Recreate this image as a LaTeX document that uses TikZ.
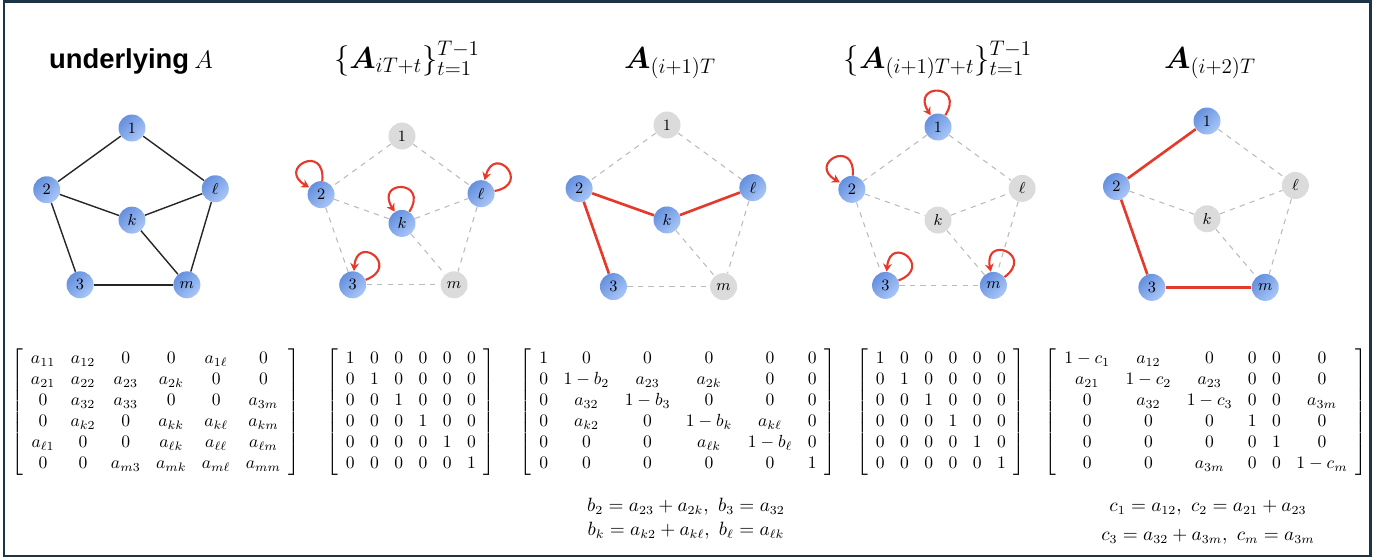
\documentclass[tikz,border=0pt]{standalone}
\usepackage{amsmath,amssymb}
\usepackage{fontspec}
\usepackage{tikz}
\usetikzlibrary{arrows.meta,positioning}
\newfontfamily\headfont{Liberation Sans}
\definecolor{vblueA}{HTML}{6590DE}
\definecolor{vblueB}{HTML}{A9C6F7}
\definecolor{vgray}{HTML}{DBDBDB}
\definecolor{hotred}{HTML}{E5392B}
\definecolor{framenavy}{HTML}{1D3446}
\setlength{\arraycolsep}{4.4pt}
\tikzset{
  vtx/.style={circle, inner sep=0pt, minimum size=0.54cm, font=\small},
  onvtx/.style={vtx, top color=vblueA, bottom color=vblueB, shading angle=45},
  offvtx/.style={vtx, fill=vgray},
  edgeplain/.style={black!85, line width=0.8pt},
  edgeoff/.style={black!27, dashed, line width=0.6pt},
  edgeon/.style={hotred, line width=1.5pt},
  selfloop/.style={hotred, line width=1.2pt, -{Stealth[length=4.5pt,width=5pt]},
                   min distance=0.76cm, looseness=1},
  paneltitle/.style={anchor=base, font=\LARGE},
  mtx/.style={inner sep=0pt},
  cond/.style={align=center, inner sep=0pt, font=\fontsize{10.5}{12.6}\selectfont},
}

\begin{document}
\begin{tikzpicture}[x=0.02cm, y=0.02cm]

%% Canvas and frame
\useasboundingbox (0,0) rectangle (1387,-559);
\draw[framenavy, line width=0.055cm] (4,-1.5) rectangle (1370.5,-556);

%% Titles
\node[paneltitle, font=\fontsize{15.6}{18}\selectfont] (titleA) at (131,-68)
  {{\headfont\bfseries underlying}\hspace{3pt}$A$};
\node[paneltitle] (titleB) at (407,-68) {$\{\boldsymbol{A}_{iT+t}\}_{t=1}^{T-1}$};
\node[paneltitle] (titleC) at (670,-68) {$\boldsymbol{A}_{(i+1)T}$};
\node[paneltitle] (titleD) at (938,-68) {$\{\boldsymbol{A}_{(i+1)T+t}\}_{t=1}^{T-1}$};
\node[paneltitle] (titleE) at (1210,-68) {$\boldsymbol{A}_{(i+2)T}$};

%% Pentagon layout (relative to vertex 1)
\def\ptTwo{(-87,-63)}  \def\ptL{(85,-62)}  \def\ptK{(0,-94)}
\def\ptThree{(-53,-160)} \def\ptM{(56,-160)}

%% ── (A) underlying graph ────────────────────────────────────────────
\begin{scope}[shift={(132,-128)}, scale=0.98]
  \node[onvtx] (A1) at (0,0) {$1$};
  \node[onvtx] (A2) at \ptTwo {$2$};
  \node[onvtx] (Al) at \ptL {$\ell$};
  \node[onvtx] (Ak) at \ptK {$k$};
  \node[onvtx] (A3) at \ptThree {$3$};
  \node[onvtx] (Am) at \ptM {$m$};
\end{scope}
\foreach \s/\t in {1/2,1/l,2/k,k/l,2/3,k/m,l/m,3/m}
  \draw[edgeplain] (A\s) -- (A\t);

%% ── (B) idle steps, self-loops only ─────────────────────────────────
\begin{scope}[shift={(402,-136)}, scale=0.93]
  \node[offvtx] (B1) at (0,0) {$1$};
  \node[onvtx]  (B2) at \ptTwo {$2$};
  \node[onvtx]  (Bl) at \ptL {$\ell$};
  \node[onvtx]  (Bk) at \ptK {$k$};
  \node[onvtx]  (B3) at \ptThree {$3$};
  \node[offvtx] (Bm) at \ptM {$m$};
\end{scope}
\foreach \s/\t in {1/2,1/l,2/k,k/l,2/3,k/m,l/m,3/m}
  \draw[edgeoff] (B\s) -- (B\t);
\draw[selfloop] (B2) to[out=85, in=149] (B2);
\draw[selfloop] (Bk) to[out=58, in=122] (Bk);
\draw[selfloop] (Bl) to[out=11, in=75] (Bl);
\draw[selfloop] (B3) to[out=21, in=85] (B3);

%% ── (C) first mixing step ───────────────────────────────────────────
\begin{scope}[shift={(667,-125)}, scale=1.01]
  \node[offvtx] (C1) at (0,0) {$1$};
  \node[onvtx]  (C2) at \ptTwo {$2$};
  \node[onvtx]  (Cl) at \ptL {$\ell$};
  \node[onvtx]  (Ck) at \ptK {$k$};
  \node[onvtx]  (C3) at \ptThree {$3$};
  \node[offvtx] (Cm) at \ptM {$m$};
\end{scope}
\foreach \s/\t in {1/2,1/l,k/m,l/m,3/m}
  \draw[edgeoff] (C\s) -- (C\t);
\foreach \s/\t in {2/k,k/l,2/3}
  \draw[edgeon] (C\s) -- (C\t);

%% ── (D) idle steps, self-loops only ─────────────────────────────────
\begin{scope}[shift={(938,-127)}, scale=0.99]
  \node[onvtx]  (D1) at (0,0) {$1$};
  \node[onvtx]  (D2) at \ptTwo {$2$};
  \node[offvtx] (Dl) at \ptL {$\ell$};
  \node[offvtx] (Dk) at \ptK {$k$};
  \node[onvtx]  (D3) at \ptThree {$3$};
  \node[onvtx]  (Dm) at \ptM {$m$};
\end{scope}
\foreach \s/\t in {1/2,1/l,2/k,k/l,2/3,k/m,l/m,3/m}
  \draw[edgeoff] (D\s) -- (D\t);
\draw[selfloop] (D1) to[out=58, in=122] (D1);
\draw[selfloop] (D2) to[out=86, in=150] (D2);
\draw[selfloop] (D3) to[out=21, in=85] (D3);
\draw[selfloop] (Dm) to[out=37, in=101] (Dm);

%% ── (E) second mixing step ──────────────────────────────────────────
\begin{scope}[shift={(1207,-121)}, scale=1.04]
  \node[onvtx]  (E1) at (0,0) {$1$};
  \node[onvtx]  (E2) at \ptTwo {$2$};
  \node[offvtx] (El) at \ptL {$\ell$};
  \node[offvtx] (Ek) at \ptK {$k$};
  \node[onvtx]  (E3) at \ptThree {$3$};
  \node[onvtx]  (Em) at \ptM {$m$};
\end{scope}
\foreach \s/\t in {1/l,2/k,k/l,k/m,l/m}
  \draw[edgeoff] (E\s) -- (E\t);
\foreach \s/\t in {1/2,2/3,3/m}
  \draw[edgeon] (E\s) -- (E\t);

%% Matrices
\node[mtx] (matA) at (156,-412) {$\left[\begin{array}{cccccc}
  a_{11} & a_{12} & 0 & 0 & a_{1\ell} & 0\\
  a_{21} & a_{22} & a_{23} & a_{2k} & 0 & 0\\
  0 & a_{32} & a_{33} & 0 & 0 & a_{3m}\\
  0 & a_{k2} & 0 & a_{kk} & a_{k\ell} & a_{km}\\
  a_{\ell1} & 0 & 0 & a_{\ell k} & a_{\ell\ell} & a_{\ell m}\\
  0 & 0 & a_{m3} & a_{mk} & a_{m\ell} & a_{mm}
\end{array}\right]$};
\node[mtx] (matB) at (411,-412) {$\left[\begin{array}{cccccc}
  1 & 0 & 0 & 0 & 0 & 0\\
  0 & 1 & 0 & 0 & 0 & 0\\
  0 & 0 & 1 & 0 & 0 & 0\\
  0 & 0 & 0 & 1 & 0 & 0\\
  0 & 0 & 0 & 0 & 1 & 0\\
  0 & 0 & 0 & 0 & 0 & 1
\end{array}\right]$};
\node[mtx] (matC) at (678,-412) {$\left[\begin{array}{cccccc}
  1 & 0 & 0 & 0 & 0 & 0\\
  0 & 1-b_2 & a_{23} & a_{2k} & 0 & 0\\
  0 & a_{32} & 1-b_3 & 0 & 0 & 0\\
  0 & a_{k2} & 0 & 1-b_k & a_{k\ell} & 0\\
  0 & 0 & 0 & a_{\ell k} & 1-b_\ell & 0\\
  0 & 0 & 0 & 0 & 0 & 1
\end{array}\right]$};
\node[mtx] (matD) at (941,-412) {$\left[\begin{array}{cccccc}
  1 & 0 & 0 & 0 & 0 & 0\\
  0 & 1 & 0 & 0 & 0 & 0\\
  0 & 0 & 1 & 0 & 0 & 0\\
  0 & 0 & 0 & 1 & 0 & 0\\
  0 & 0 & 0 & 0 & 1 & 0\\
  0 & 0 & 0 & 0 & 0 & 1
\end{array}\right]$};
\node[mtx] (matE) at (1206,-412) {$\left[\begin{array}{cccccc}
  1-c_1 & a_{12} & 0 & 0 & 0 & 0\\
  a_{21} & 1-c_2 & a_{23} & 0 & 0 & 0\\
  0 & a_{32} & 1-c_3 & 0 & 0 & a_{3m}\\
  0 & 0 & 0 & 1 & 0 & 0\\
  0 & 0 & 0 & 0 & 1 & 0\\
  0 & 0 & a_{3m} & 0 & 0 & 1-c_m
\end{array}\right]$};

%% Definitions below the mixing matrices
\node[cond] (condC) at (686,-519)
  {$b_2 = a_{23} + a_{2k},\ b_3 = a_{32}$\\[1pt] $b_k = a_{k2} + a_{k\ell},\ b_\ell = a_{\ell k}$};
\node[cond] (condE) at (1208,-522)
  {$c_1 = a_{12},\ c_2 = a_{21} + a_{23}$\\[4pt] $c_3 = a_{32} + a_{3m},\ c_m = a_{3m}$};

\end{tikzpicture}
\end{document}
